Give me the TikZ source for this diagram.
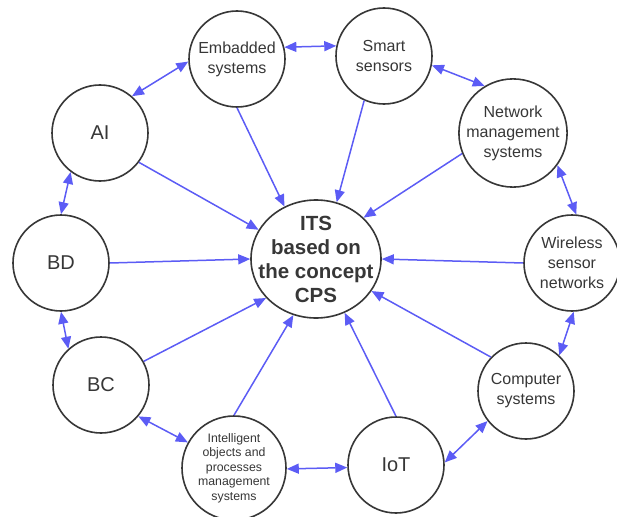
\documentclass[tikz,border=0pt]{standalone}
\usepackage{fontspec}
\setmainfont{Liberation Sans}
\usetikzlibrary{arrows.meta,shapes.geometric}
\definecolor{linkblue}{RGB}{92,92,245}
\definecolor{inkgray}{RGB}{55,55,55}

\begin{document}
\begin{tikzpicture}[x=1pt,y=-1pt,
    topic/.style={circle,draw=inkgray,line width=1.6pt,fill=white,minimum size=96pt,inner sep=0pt,align=center,text=inkgray,font=\fontsize{16}{20}\selectfont},
    bigtopic/.style={topic,font=\fontsize{20}{24}\selectfont},
    hub/.style={ellipse,draw=inkgray,line width=1.6pt,fill=white,minimum width=130pt,minimum height=118pt,inner sep=-16pt,align=center,text=inkgray,font=\bfseries\fontsize{20.5}{24}\selectfont},
    feed/.style={draw=linkblue,line width=1.5pt,-{Triangle[length=12pt,width=10pt]}},
    pair/.style={draw=linkblue,line width=1.5pt,{Triangle[length=12pt,width=10pt]}-{Triangle[length=12pt,width=10pt]}}]
        \useasboundingbox (0,0) rectangle (617,516);
        %% Hub
        \node[hub] (its) at (316,259) {ITS\\based on\\the concept\\CPS};
        %% Outer ring
        \node[topic] (emb) at (237,59) {Embadded\\systems};
        \node[topic] (smart) at (384,56) {Smart\\sensors};
        \node[topic] (net) at (513,133) {Network\\management\\systems};
        \node[topic] (wsn) at (572,263) {Wireless\\sensor\\networks};
        \node[topic] (comp) at (526,391) {Computer\\systems};
        \node[bigtopic] (iot) at (396,465) {IoT};
        \node[topic,minimum size=104pt,font=\fontsize{12.3}{14.5}\selectfont] (iop) at (234,468) {Intelligent\\objects and\\processes\\management\\systems};
        \node[bigtopic] (bc) at (101,385) {BC};
        \node[bigtopic] (bd) at (61,263) {BD};
        \node[bigtopic] (ai) at (100,133) {AI};
        %% Into the hub
        \draw[feed] (emb.270) -- (its.121);
        \draw[feed] (smart.246) -- (its.70);
        \draw[feed] (net.202) -- (its.41);
        \draw[feed] (wsn.180) -- (its.0);
        \draw[feed] (comp.136) -- (its.330);
        \draw[feed] (iot.90) -- (its.298);
        \draw[feed] (iop.90) -- (its.248);
        \draw[feed] (bc.29) -- (its.218);
        \draw[feed] (bd.0) -- (its.180);
        \draw[feed] (ai.323) -- (its.153);
        %% Round the ring
        \draw[pair] (ai.49) -- (emb.183);
        \draw[pair] (emb.14) -- (smart.168);
        \draw[pair] (smart.349) -- (net.121);
        \draw[pair] (net.324) -- (wsn.85);
        \draw[pair] (wsn.272) -- (comp.47);
        \draw[pair] (comp.218) -- (iot.3);
        \draw[pair] (iot.183) -- (iop.359);
        \draw[pair] (iop.151) -- (bc.320);
        \draw[pair] (bc.132) -- (bd.270);
        \draw[pair] (bd.90) -- (ai.233);
    \end{tikzpicture}
\end{document}
